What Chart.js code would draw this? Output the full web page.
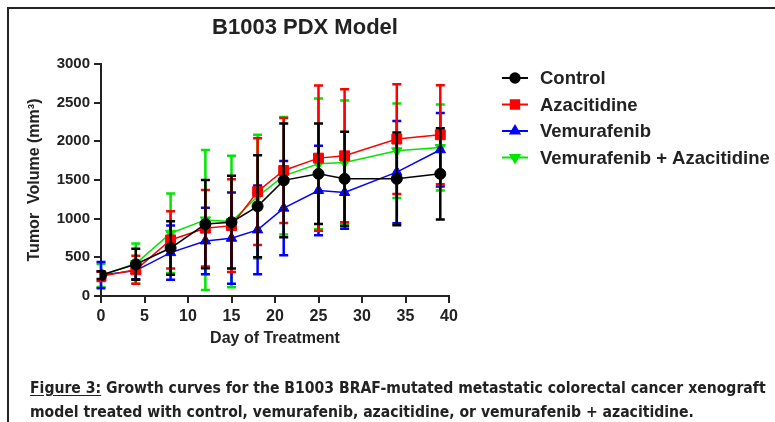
<!DOCTYPE html>
<html>
<head>
<meta charset="utf-8">
<title>B1003 PDX Model</title>
<script src="https://cdn.jsdelivr.net/npm/chart.js@4.4.1/dist/chart.umd.min.js"></script>
<style>
  html, body { margin: 0; padding: 0; background: #fff; }
  #wrap { position: relative; width: 775px; height: 422px; overflow: hidden; }
  #frame {
    position: absolute; left: 7px; top: 7px; right: 0; bottom: 0;
    border-top: 2px solid #222; border-left: 2px solid #222;
    pointer-events: none;
  }
  #caption {
    position: absolute; left: 30px; top: 376px; width: 745px;
    font-family: "Liberation Sans Narrow", "DejaVu Sans Condensed", sans-serif;
    font-weight: bold; font-size: 15.6px; line-height: 24px; color: #222;
    white-space: nowrap;
  }
  #caption u { text-underline-offset: 2px; }
</style>
</head>
<body>
<div id="wrap">
  <canvas id="pdxChart" width="775" height="422"></canvas>
  <div id="frame"></div>
  <div id="caption">
    <u>Figure 3:</u> Growth curves for the B1003 BRAF-mutated metastatic colorectal cancer xenograft<br>
    model treated with control, vemurafenib, azacitidine, or vemurafenib + azacitidine.
  </div>
</div>

<script>
// days of treatment (x values)
const days = [0, 4, 8, 12, 15, 18, 21, 25, 28, 34, 39];

// mean tumor volume (mm3) per group
const control     = [270, 410, 620, 930, 955, 1160, 1495, 1580, 1515, 1515, 1580];
const azacitidine = [255, 340, 725, 877, 910, 1351, 1623, 1783, 1813, 2029, 2085];
const vemurafenib = [270, 328, 561, 712, 747, 855, 1136, 1364, 1338, 1602, 1891];
const combination = [265, 420, 812, 984, 962, 1286, 1554, 1709, 1727, 1878, 1920];

// error bar half-lengths (SD) per group
const controlErr     = [50, 200, 345, 570, 600, 660, 735, 650, 610, 600, 590];
const azacitidineErr = [60, 180, 370, 495, 600, 690, 680, 940, 860, 710, 640];
const vemurafenibErr = [170, 110, 350, 430, 590, 575, 610, 580, 470, 660, 475];
const combinationErr = [150, 260, 515, 905, 850, 800, 760, 845, 800, 610, 555];

const seriesNames = ['Control', 'Azacitidine', 'Vemurafenib', 'Vemurafenib + Azacitidine'];

// axis ticks
const xTicks = [0, 5, 10, 15, 20, 25, 30, 35, 40];
const yTicks = [0, 500, 1000, 1500, 2000, 2500, 3000];

const FONT = '"Liberation Sans", Arial, sans-serif';

function makeSeries(name, values, errors, color, style, radius, rotation) {
  return {
    label: name,
    data: days.map((d, i) => ({ x: d, y: values[i] })),
    errors: errors,
    borderColor: color,
    backgroundColor: color,
    borderWidth: 1.5,
    pointStyle: style,
    pointRadius: radius,
    pointRotation: rotation,
    pointBorderWidth: 1,
    tension: 0
  };
}

const datasets = [
  makeSeries(seriesNames[0], control, controlErr, '#000000', 'circle', 5.5, 0),
  makeSeries(seriesNames[1], azacitidine, azacitidineErr, '#ff0000', 'rect', 7, 0),
  makeSeries(seriesNames[2], vemurafenib, vemurafenibErr, '#0000ff', 'triangle', 6, 0),
  makeSeries(seriesNames[3], combination, combinationErr, '#00e600', 'triangle', 6, 180)
];

// Draw the SD bars of each dataset just before its line and points
const errorBars = {
  id: 'errorBars',
  beforeDatasetDraw(chart, args) {
    const ds = chart.data.datasets[args.index];
    const xs = chart.scales.x;
    const ys = chart.scales.y;
    const ctx = chart.ctx;
    ctx.save();
    ctx.strokeStyle = ds.borderColor;
    ctx.lineWidth = 2.5;
    ds.data.forEach((p, i) => {
      const x = xs.getPixelForValue(p.x);
      const top = ys.getPixelForValue(p.y + ds.errors[i]);
      const bot = ys.getPixelForValue(p.y - ds.errors[i]);
      ctx.beginPath();
      ctx.moveTo(x, top); ctx.lineTo(x, bot);
      ctx.moveTo(x - 4.5, top); ctx.lineTo(x + 4.5, top);
      ctx.moveTo(x - 4.5, bot); ctx.lineTo(x + 4.5, bot);
      ctx.stroke();
    });
    ctx.restore();
  }
};

// Title and legend drawn the way the original figure lays them out
const decor = {
  id: 'decor',
  afterDraw(chart) {
    const ctx = chart.ctx;
    ctx.save();
    ctx.fillStyle = '#222';
    ctx.font = 'bold 22px ' + FONT;
    ctx.textAlign = 'center';
    ctx.textBaseline = 'middle';
    ctx.fillText('B1003 PDX Model', 305, 28);

    ctx.font = 'bold 18.5px ' + FONT;
    ctx.textAlign = 'left';
    chart.data.datasets.forEach((ds, i) => {
      const y = 78 + i * 26.5;
      ctx.strokeStyle = ds.borderColor;
      ctx.lineWidth = 2;
      ctx.beginPath();
      ctx.moveTo(502, y); ctx.lineTo(528, y);
      ctx.stroke();
      ctx.fillStyle = ds.backgroundColor;
      Chart.helpers.drawPoint(ctx, {
        pointStyle: ds.pointStyle,
        radius: ds.pointRadius * 0.85,
        rotation: ds.pointRotation,
        borderWidth: 1
      }, 515, y);
      ctx.fillStyle = '#222';
      ctx.fillText(ds.label, 540, y + 1);
    });
    ctx.restore();
  }
};

new Chart(document.getElementById('pdxChart'), {
  type: 'line',
  data: { datasets: datasets },
  plugins: [errorBars, decor],
  options: {
    responsive: false,
    animation: false,
    layout: { padding: { top: 64, right: 326, bottom: 62, left: 0 } },
    plugins: {
      legend: { display: false },
      title: { display: false },
      tooltip: { enabled: false }
    },
    scales: {
      x: {
        type: 'linear',
        min: 0,
        max: 40,
        afterBuildTicks: (axis) => { axis.ticks = xTicks.map(v => ({ value: v })); },
        afterFit: (axis) => { axis.height = 64; },
        grid: { display: true, drawOnChartArea: false, drawTicks: true, tickLength: 7, color: '#222', lineWidth: 2 },
        border: { display: true, color: '#222', width: 2 },
        ticks: { color: '#222', padding: 4, font: { family: FONT, size: 16, weight: 'bold' },
                 callback: (v) => String(v) },
        title: {
          display: true,
          text: 'Day of Treatment',
          color: '#222',
          padding: { top: 0, bottom: 12 },
          font: { family: FONT, size: 16, weight: 'bold' }
        }
      },
      y: {
        min: 0,
        max: 3000,
        afterBuildTicks: (axis) => { axis.ticks = yTicks.map(v => ({ value: v })); },
        afterFit: (axis) => { axis.width = 101; },
        grid: { display: true, drawOnChartArea: false, drawTicks: true, tickLength: 7, color: '#222', lineWidth: 2 },
        border: { display: true, color: '#222', width: 2 },
        ticks: { color: '#222', padding: 4, font: { family: FONT, size: 15, weight: 'bold' },
                 callback: (v) => String(v) },
        title: {
          display: true,
          text: 'Tumor  Volume (mm³)',
          color: '#222',
          padding: { top: 25, bottom: 0 },
          font: { family: FONT, size: 16, weight: 'bold' }
        }
      }
    }
  }
});
</script>
</body>
</html>
